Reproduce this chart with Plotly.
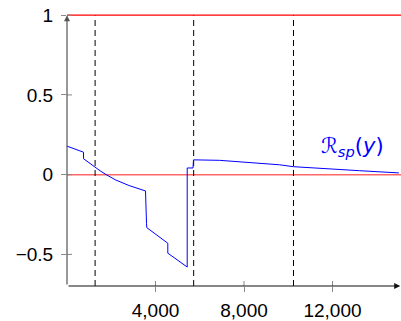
import plotly.graph_objects as go

# Blue curve R_sp(y)
x_vals = [0, 746, 746, 1000, 1243, 1500, 1772, 2200, 2800, 3277, 3548, 3593, 3607,
          4556, 4556, 5433, 5433, 5695, 5718, 6893, 7977, 8701, 9605, 10237, 11864, 13220, 15000]
y_vals = [0.179, 0.141, 0.100, 0.073, 0.048, 0.024, 0.0, -0.033, -0.068, -0.087, -0.102, -0.305, -0.332,
          -0.430, -0.492, -0.579, 0.042, 0.042, 0.093, 0.090, 0.078, 0.069, 0.062, 0.050, 0.034, 0.025, 0.011]

# Reference lines
red_levels = [1, 0]
dashed_x = [1270, 5725, 10237]

x_ticks = [4000, 8000, 12000]
y_ticks = [1, 0.5, 0, -0.5]
y_ticktext = ["1", "0.5", "0", "\u22120.5"]

X_MIN, X_MAX = 0, 15096
Y_MIN, Y_MAX = -0.698, 1.02

label_text = "\u211B<sub><i>sp</i></sub>(<i>y</i>)"
label_pos = (12900, 0.174)

FONT = "Liberation Sans"

fig = go.Figure()

fig.add_trace(go.Scatter(x=x_vals, y=y_vals, mode="lines",
                         line=dict(color="#0000ff", width=1), showlegend=False,
                         hoverinfo="skip"))

shapes = []
# red lines
shapes.append(dict(type="line", xref="paper", x0=0, x1=1, yref="y", y0=red_levels[0], y1=red_levels[0],
                   line=dict(color="#ff0000", width=1.2), layer="above"))
shapes.append(dict(type="line", xref="paper", x0=0, x1=1, yref="y", y0=red_levels[1], y1=red_levels[1],
                   line=dict(color="rgba(255,0,0,0.6)", width=1.6), layer="below"))
# dashed verticals
for xv in dashed_x:
    shapes.append(dict(type="line", xref="x", x0=xv, x1=xv, yref="y", y0=Y_MIN, y1=1,
                       line=dict(color="black", width=1, dash="6px,4px"), layer="below"))
# inner tick parts
for yv in y_ticks:
    shapes.append(dict(type="line", xref="x", xsizemode="pixel", xanchor=0, x0=0, x1=5,
                       yref="y", y0=yv, y1=yv, line=dict(color="#888", width=1)))
for xv in x_ticks:
    shapes.append(dict(type="line", yref="y", ysizemode="pixel", yanchor=Y_MIN, y0=0, y1=5,
                       xref="x", x0=xv, x1=xv, line=dict(color="#888", width=1)))

annotations = [
    # y axis with arrow
    dict(x=0, y=1, xref="x", yref="y", ax=0, ay=Y_MIN, axref="x", ayref="y",
         text="", showarrow=True, arrowhead=2, arrowsize=1, arrowwidth=1.2, arrowcolor="#555"),
    # x axis with arrow
    dict(x=15060, y=Y_MIN, xref="x", yref="y", ax=0, ay=Y_MIN, axref="x", ayref="y",
         text="", showarrow=True, arrowhead=2, arrowsize=1, arrowwidth=1.2, arrowcolor="#111"),
    dict(x=label_pos[0], y=label_pos[1], xref="x", yref="y", text=label_text, showarrow=False,
         font=dict(family="DejaVu Sans", size=21, color="#0000ff")),
]

fig.update_layout(
    width=401, height=321,
    margin=dict(l=67, r=0, t=12, b=33),
    paper_bgcolor="white", plot_bgcolor="white",
    font=dict(family=FONT, size=19, color="black"),
    shapes=shapes, annotations=annotations,
    xaxis=dict(range=[X_MIN, X_MAX], showgrid=False, zeroline=False, showline=False,
               tickvals=x_ticks, tickformat=",", ticks="outside", ticklen=5, tickcolor="#888",
               tickfont=dict(size=19), ticklabelstandoff=2),
    yaxis=dict(range=[Y_MIN, Y_MAX], showgrid=False, zeroline=False, showline=False,
               tickvals=y_ticks, ticktext=y_ticktext, ticks="outside", ticklen=5, tickcolor="#888",
               tickfont=dict(size=19), ticklabelstandoff=4),
)

fig.write_html("out.html")
